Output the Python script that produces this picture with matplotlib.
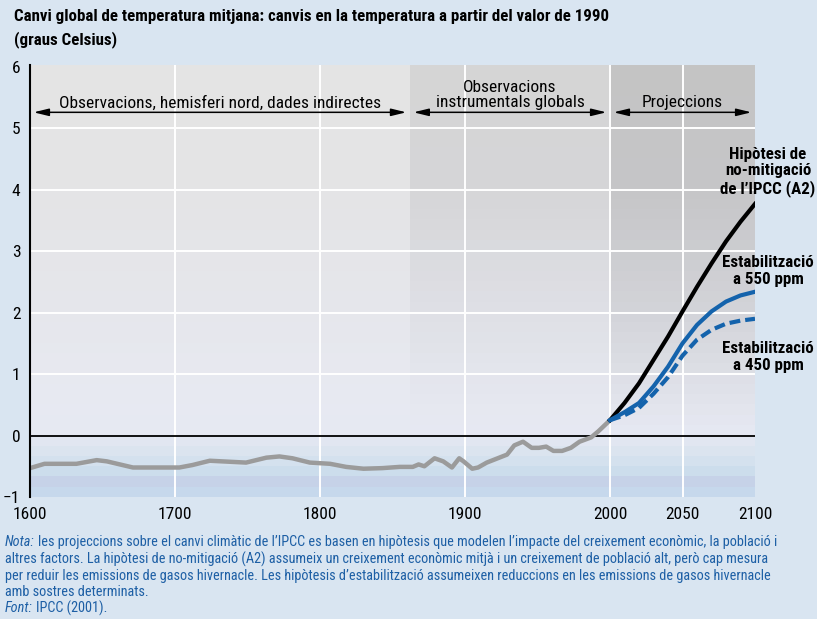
import numpy as np
import matplotlib
matplotlib.use("Agg")
import matplotlib.pyplot as plt
from matplotlib.colors import to_rgb

plt.rcParams['font.family'] = ['Roboto Condensed', 'Liberation Sans Narrow',
                               'DejaVu Sans Condensed', 'Roboto', 'DejaVu Sans']
plt.rcParams['font.stretch'] = 'condensed'

# Historical series (northern-hemisphere proxies + global instrumental), °C vs 1990
hist_years = [1600, 1610, 1632, 1646, 1653, 1671, 1703, 1712, 1724, 1749, 1763, 1772,
              1781, 1793, 1807, 1818, 1830, 1843, 1855, 1864, 1868, 1872, 1879, 1885,
              1891, 1896, 1899, 1905, 1909, 1915, 1929, 1934, 1940, 1946, 1951, 1956,
              1961, 1967, 1973, 1979, 1987, 1992, 2000]
hist_temp = [-0.53, -0.46, -0.46, -0.40, -0.42, -0.52, -0.52, -0.48, -0.41, -0.44, -0.36, -0.34,
             -0.37, -0.44, -0.46, -0.51, -0.54, -0.53, -0.51, -0.51, -0.47, -0.50, -0.37, -0.42,
             -0.52, -0.37, -0.42, -0.54, -0.52, -0.44, -0.31, -0.16, -0.10, -0.20, -0.20, -0.18,
             -0.25, -0.25, -0.20, -0.10, -0.03, 0.07, 0.25]

# IPCC projections
proj_years = [2000, 2010, 2020, 2030, 2040, 2050, 2060, 2070, 2080, 2090, 2100]
a2_no_mitigation = [0.25, 0.53, 0.85, 1.23, 1.61, 2.02, 2.42, 2.80, 3.16, 3.48, 3.77]
stab_550 = [0.25, 0.38, 0.53, 0.80, 1.12, 1.50, 1.80, 2.02, 2.18, 2.28, 2.34]
stab_450 = [0.25, 0.33, 0.45, 0.68, 0.95, 1.30, 1.56, 1.72, 1.82, 1.87, 1.90]

x_ticks = [1600, 1700, 1800, 1900, 2000, 2050, 2100]
y_ticks = [-1, 0, 1, 2, 3, 4, 5, 6]
y_tick_labels = ['\u22121', '0', '1', '2', '3', '4', '5', '6']

periods = [(1600, 1862, 'Observacions, hemisferi nord, dades indirectes'),
           (1862, 2000, 'Observacions\ninstrumentals globals'),
           (2000, 2100, 'Projeccions')]

BG = '#d9e5f1'
BLUE = '#1463ac'
NOTE_BLUE = '#1d5fa5'

W, H = 817, 619
fig = plt.figure(figsize=(W / 100, H / 100), dpi=100, facecolor=BG)
ax = fig.add_axes([30 / W, 1 - 497 / H, 725 / W, 432 / H])
ax.set_facecolor(BG)
ax.set_xlim(1600, 2100)
ax.set_ylim(-1, 6.03)

# banded vertical gradients for each period column
stop_y = [6.03, 4, 2, 0.5, 0, -0.4, -0.7, -0.9, -1.0]
low = ['#e6e9f3', '#d8e3ef', '#cbdcec', '#c4cde6', '#c6d8ec']
col_stops = [
    ['#e4e4e4', '#e4e4e6', '#e6e7ec', '#e8eaf2'] + low,
    ['#d5d5d5', '#d6d6d8', '#dfe0e6', '#e6e8f0'] + low,
    ['#c4c4c4', '#c6c6c8', '#d3d4d9', '#e2e4ec'] + low,
]
n = 42
ys = np.linspace(6.03, -1, n)
for (x0, x1, _), stops in zip(periods, col_stops):
    rgb = np.array([to_rgb(c) for c in stops])
    img = np.zeros((n, 1, 3))
    for k in range(3):
        img[:, 0, k] = np.interp(-ys, [-s for s in stop_y], rgb[:, k])
    ax.imshow(img, extent=[x0, x1, -1, 6.03], aspect='auto', zorder=0,
              interpolation='nearest')

for xv in [1700, 1800, 1900, 2000, 2050]:
    ax.axvline(xv, color='white', lw=1.4, zorder=1)
for yv in [1, 2, 3, 4, 5]:
    ax.axhline(yv, color='white', lw=1.4, zorder=1)
ax.axhline(0, color='black', lw=1.3, zorder=2)

ax.plot(hist_years, hist_temp, color='#9b9b9b', lw=3.2, zorder=3,
        solid_joinstyle='round', solid_capstyle='round')
ax.plot(proj_years, a2_no_mitigation, color='black', lw=3, zorder=4)
ax.plot(proj_years, stab_550, color=BLUE, lw=3, zorder=4)
ax.plot(proj_years, stab_450, color=BLUE, lw=3, ls=(0, (2.6, 1.2)), zorder=4)

# period arrows and labels
arrow_y = 5.26
pad = 2.5
for i, (x0, x1, label) in enumerate(periods):
    ax.annotate('', xy=(x1 - pad, arrow_y), xytext=(x0 + pad, arrow_y),
                arrowprops=dict(arrowstyle='<|-|>,head_length=0.9,head_width=0.22',
                                color='black', lw=1.1, shrinkA=0, shrinkB=0),
                zorder=5)
    ax.text((x0 + x1) / 2, arrow_y + 0.03, label, ha='center', va='bottom',
            fontsize=12.5, linespacing=1.0, zorder=5)

ax.set_xticks(x_ticks)
ax.set_xticklabels([str(v) for v in x_ticks], fontsize=12.5)
ax.set_yticks(y_ticks)
ax.set_yticklabels(y_tick_labels, fontsize=12.5)
ax.tick_params(axis='x', length=0, pad=7)
ax.tick_params(axis='y', length=0, pad=7)
for s in ['top', 'right', 'bottom']:
    ax.spines[s].set_visible(False)
ax.spines['left'].set_linewidth(1.5)
ax.spines['left'].set_zorder(6)

# scenario labels at the right
def ftxt(x, y, s, **kw):
    return fig.text(x / W, 1 - y / H, s, **kw)

for y, s in [(172, 'Hipòtesi de\nno-mitigació\nde l\u2019IPCC (A2)'),
             (271, 'Estabilització\na 550 ppm'),
             (357, 'Estabilització\na 450 ppm')]:
    ftxt(768, y, s, ha='center', va='center', fontsize=12.2, fontweight='bold',
         linespacing=1.15)

ftxt(14, 17, 'Canvi global de temperatura mitjana: canvis en la temperatura a partir del valor de 1990',
     ha='left', va='center', fontsize=12.2, fontweight='bold')
ftxt(14, 40, '(graus Celsius)', ha='left', va='center', fontsize=12.2, fontweight='bold')

# notes
renderer = fig.canvas.get_renderer()
def lead_line(y, lead, rest):
    t = ftxt(5, y, lead, ha='left', va='center', fontsize=10.3, style='italic', color=NOTE_BLUE)
    bb = t.get_window_extent(renderer)
    fig.text(bb.x1 / W + 3 / W, 1 - y / H, rest, ha='left', va='center', fontsize=10.3,
             color=NOTE_BLUE)

lead_line(542, 'Nota:', 'les projeccions sobre el canvi climàtic de l\u2019IPCC es basen en hipòtesis que modelen l\u2019impacte del creixement econòmic, la població i')
for y, s in [(559, 'altres factors. La hipòtesi de no-mitigació (A2) assumeix un creixement econòmic mitjà i un creixement de població alt, però cap mesura'),
             (576, 'per reduir les emissions de gasos hivernacle. Les hipòtesis d\u2019estabilització assumeixen reduccions en les emissions de gasos hivernacle'),
             (592, 'amb sostres determinats.')]:
    ftxt(5, y, s, ha='left', va='center', fontsize=10.3, color=NOTE_BLUE)
lead_line(608, 'Font:', 'IPCC (2001).')

fig.savefig('out.png', dpi=100, facecolor=BG)
